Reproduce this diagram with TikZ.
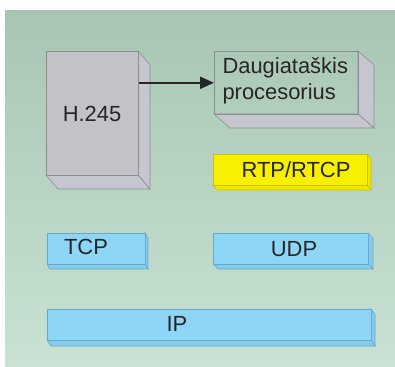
\documentclass[tikz,border=0pt]{standalone}
\usepackage{fontspec}
\setmainfont{Liberation Sans}
\usetikzlibrary{arrows.meta}
\definecolor{bgtop}{HTML}{A8C5B3}
\definecolor{bgbot}{HTML}{C9E2D3}
\definecolor{grayfront}{HTML}{C2C2C8}
\definecolor{grayside}{HTML}{C6C6CE}
\definecolor{edgegray}{HTML}{8C8C94}
\definecolor{yel}{HTML}{F8F000}
\definecolor{yelside}{HTML}{F0E800}
\definecolor{yeledge}{HTML}{C8C000}
\definecolor{blu}{HTML}{8ED6F6}
\definecolor{bluside}{HTML}{86CCEC}
\definecolor{bluedge}{HTML}{6AA8C8}
\definecolor{txt}{HTML}{262626}
\tikzset{
  front/.style={draw=#1, line width=0.6bp, anchor=north west, inner sep=0pt},
  sideface/.style={draw=#1, line width=0.6bp},
  lbl/.style={text=txt, font=\fontsize{22}{26}\selectfont},
}
\begin{document}
\begin{tikzpicture}[x=1bp,y=-1bp]
\useasboundingbox (0,0) rectangle (395,367);
\fill[white] (0,0) rectangle (395,367);
\shade[top color=bgtop, bottom color=bgbot] (5,10) rectangle (395,366);

% H.245 box
\filldraw[fill=grayside, sideface=edgegray] (138,51) -- (150,65) -- (150,189) -- (138,175) -- cycle;
\filldraw[fill=grayside, sideface=edgegray] (46,175) -- (58,189) -- (150,189) -- (138,175) -- cycle;
\node[front=edgegray, fill=grayfront, minimum width=92bp, minimum height=124bp] (h245) at (46,51) {};
\node[lbl] at (92,114) {H.245};

% Daugiataskis box
\filldraw[fill=grayside, sideface=edgegray] (358,51) -- (374,65) -- (374,128) -- (358,114) -- cycle;
\filldraw[fill=grayside, sideface=edgegray] (214,114) -- (230,128) -- (374,128) -- (358,114) -- cycle;
\node[front=edgegray, fill=none, minimum width=144bp, minimum height=63bp] (dp) at (214,51) {};
\node[lbl, font=\fontsize{22}{26}\selectfont, align=left, anchor=north west] at (219,54) {Daugiataškis\\procesorius};

% RTP/RTCP
\filldraw[fill=yelside, sideface=yeledge] (367,154) -- (371,159) -- (371,190) -- (367,185) -- cycle;
\filldraw[fill=yelside, sideface=yeledge] (213,185) -- (217,190) -- (371,190) -- (367,185) -- cycle;
\node[front=yeledge, fill=yel, minimum width=154bp, minimum height=31bp] (rtp) at (213,154) {};
\node[lbl] at (296,170) {RTP/RTCP};

% TCP
\filldraw[fill=bluside, sideface=bluedge] (145,233) -- (148,238) -- (148,269) -- (145,264) -- cycle;
\filldraw[fill=bluside, sideface=bluedge] (47,264) -- (50,269) -- (148,269) -- (145,264) -- cycle;
\node[front=bluedge, fill=blu, minimum width=98bp, minimum height=31bp] (tcp) at (47,233) {};
\node[lbl] at (86,247) {TCP};

% UDP
\filldraw[fill=bluside, sideface=bluedge] (368,233) -- (373,238) -- (373,269) -- (368,264) -- cycle;
\filldraw[fill=bluside, sideface=bluedge] (213,264) -- (218,269) -- (373,269) -- (368,264) -- cycle;
\node[front=bluedge, fill=blu, minimum width=155bp, minimum height=31bp] (udp) at (213,233) {};
\node[lbl] at (294,249) {UDP};

% IP
\filldraw[fill=bluside, sideface=bluedge] (371,309) -- (375,314) -- (375,346) -- (371,340) -- cycle;
\filldraw[fill=bluside, sideface=bluedge] (47,340) -- (51,346) -- (375,346) -- (371,340) -- cycle;
\node[front=bluedge, fill=blu, minimum width=324bp, minimum height=31bp] (ip) at (47,309) {};
\node[lbl] at (177,324) {IP};

% arrow
\draw[line width=2bp, draw=black!85, -{Triangle[length=14bp,width=12bp]}] (h245.east |- dp.west) -- (dp.west);
\end{tikzpicture}
\end{document}
